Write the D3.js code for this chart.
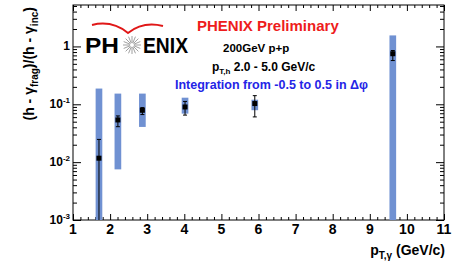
<!DOCTYPE html>
<html>
  <head>
    <meta charset="utf-8">
    <script src="https://cdnjs.cloudflare.com/ajax/libs/d3/7.8.5/d3.min.js"></script>
    <style>
      body { margin: 0px; background: #fff; }
      text { font-family: "Liberation Sans", Arial, sans-serif; font-weight: bold; }
      .domain { display: none; }
      .tick line { stroke: #000; }
    </style>
  </head>
  <body>
    <svg width="452" height="262"></svg>
    <script>
      // values
      const ptGamma  = [1.70, 2.21, 2.87, 4.02, 5.90, 9.62];
      const ratio    = [0.0117, 0.0536, 0.0788, 0.0899, 0.103, 0.748];
      const statLow  = [0.0005, 0.041, 0.0664, 0.065, 0.0605, 0.57];
      const statHigh = [0.0247, 0.0629, 0.0876, 0.112, 0.141, 0.85];
      const sysLow   = [0.0005, 0.0075, 0.0406, 0.069, 0.079, 0.0005];
      const sysHigh  = [0.187, 0.153, 0.153, 0.130, 0.120, 1.55];
      const xTicks = [1, 2, 3, 4, 5, 6, 7, 8, 9, 10, 11];
      const yTicks = [0.001, 0.01, 0.1, 1];
      const yTickLabels = [['10', '-3'], ['10', '-2'], ['10', '-1'], ['1', '']];

      const data = ptGamma.map((x, i) => ({
        x, y: ratio[i], sLo: statLow[i], sHi: statHigh[i], bLo: sysLow[i], bHi: sysHigh[i]
      }));

      const svg = d3.select('svg');
      const pLeft = 73, pRight = 444, pTop = 5, pBottom = 220;

      const xScale = d3.scaleLinear().domain([1, 11]).range([pLeft, pRight]);
      const yScale = d3.scaleLog().domain([0.001, 5.2]).range([pBottom, pTop]).clamp(true);

      // minor ticks
      const xMinor = d3.range(1, 11.001, 0.2).filter(v => Math.abs(v - Math.round(v)) > 1e-6);
      const yMinor = [];
      [0.001, 0.01, 0.1, 1].forEach(d => d3.range(2, 10).forEach(k => { if (d * k < 5.2) yMinor.push(d * k); }));

      const tickAxis = (axis, scale, vals, size, tr) => {
        svg.append('g')
          .attr('transform', tr)
          .call(axis(scale).tickValues(vals).tickSize(size).tickFormat(''));
      };
      tickAxis(d3.axisBottom, xScale, xMinor, -3, `translate(0,${pBottom})`);
      tickAxis(d3.axisBottom, xScale, xTicks, -6, `translate(0,${pBottom})`);
      tickAxis(d3.axisTop, xScale, xMinor, -3, `translate(0,${pTop})`);
      tickAxis(d3.axisTop, xScale, xTicks, -6, `translate(0,${pTop})`);
      tickAxis(d3.axisLeft, yScale, yMinor, -4, `translate(${pLeft},0)`);
      tickAxis(d3.axisLeft, yScale, yTicks, -8, `translate(${pLeft},0)`);
      tickAxis(d3.axisRight, yScale, yMinor, -4, `translate(${pRight},0)`);
      tickAxis(d3.axisRight, yScale, yTicks, -8, `translate(${pRight},0)`);

      svg.append('rect')
        .attr('x', pLeft).attr('y', pTop)
        .attr('width', pRight - pLeft).attr('height', pBottom - pTop)
        .attr('fill', 'none').attr('stroke', '#000').attr('stroke-width', 1);

      // x tick labels
      svg.append('g').selectAll('text').data(xTicks).join('text')
        .attr('x', d => xScale(d))
        .attr('y', 234)
        .attr('text-anchor', 'middle')
        .attr('font-size', 14)
        .text(d => d);

      // y tick labels
      const yl = svg.append('g').selectAll('text').data(yTicks).join('text')
        .attr('x', 70)
        .attr('y', d => yScale(d) + 4)
        .attr('text-anchor', 'end')
        .attr('font-size', 12);
      yl.each(function(d, i) {
        const t = d3.select(this);
        const [base, sup] = yTickLabels[i];
        t.append('tspan').text(base);
        if (sup) t.append('tspan').attr('dy', -5).attr('font-size', 8).text(sup);
      });

      // systematic boxes
      const halfW = 0.09;
      svg.append('g').selectAll('rect').data(data).join('rect')
        .attr('x', d => xScale(d.x - halfW))
        .attr('width', d => xScale(d.x + halfW) - xScale(d.x - halfW))
        .attr('y', d => yScale(d.bHi))
        .attr('height', d => yScale(d.bLo) - yScale(d.bHi))
        .attr('fill', '#7091d2');

      // statistical error bars
      const eb = svg.append('g').attr('stroke', '#000').attr('stroke-width', 1);
      eb.selectAll('line.v').data(data).join('line').attr('class', 'v')
        .attr('x1', d => xScale(d.x)).attr('x2', d => xScale(d.x))
        .attr('y1', d => yScale(d.sLo)).attr('y2', d => yScale(d.sHi));
      eb.selectAll('line.t').data(data).join('line').attr('class', 't')
        .attr('x1', d => xScale(d.x) - 2).attr('x2', d => xScale(d.x) + 2)
        .attr('y1', d => yScale(d.sHi)).attr('y2', d => yScale(d.sHi));
      eb.selectAll('line.b').data(data.filter(d => d.sLo > 0.001)).join('line').attr('class', 'b')
        .attr('x1', d => xScale(d.x) - 2).attr('x2', d => xScale(d.x) + 2)
        .attr('y1', d => yScale(d.sLo)).attr('y2', d => yScale(d.sLo));

      // markers
      svg.append('g').selectAll('rect').data(data).join('rect')
        .attr('x', d => xScale(d.x) - 2.5).attr('y', d => yScale(d.y) - 2.5)
        .attr('width', 5).attr('height', 5).attr('fill', '#000');

      // axis titles
      const xt = svg.append('text').attr('x', 445).attr('y', 255)
        .attr('text-anchor', 'end').attr('font-size', 14);
      xt.append('tspan').text('p');
      xt.append('tspan').attr('dy', 4).attr('font-size', 10).text('T,γ');
      xt.append('tspan').attr('dy', -4).text(' (GeV/c)');

      const yt = svg.append('text').attr('transform', 'translate(34,7) rotate(-90)')
        .attr('text-anchor', 'end').attr('font-size', 14);
      yt.append('tspan').text('(h - γ');
      yt.append('tspan').attr('dy', 4).attr('font-size', 10).text('frag');
      yt.append('tspan').attr('dy', -4).text(')/(h - γ');
      yt.append('tspan').attr('dy', 4).attr('font-size', 10).text('inc');
      yt.append('tspan').attr('dy', -4).text(')');

      // PHENIX logo
      const logo = svg.append('g');
      logo.append('path')
        .attr('d', 'M92,25 Q112,20 128,33 Q143,21 163,26')
        .attr('fill', 'none').attr('stroke', '#e01818').attr('stroke-width', 2);
      logo.append('text').attr('x', 85).attr('y', 53).attr('font-size', 22)
        .attr('textLength', 34).attr('lengthAdjust', 'spacingAndGlyphs').text('PH');
      logo.append('text').attr('x', 143).attr('y', 53).attr('font-size', 22)
        .attr('textLength', 45).attr('lengthAdjust', 'spacingAndGlyphs').text('ENIX');
      d3.range(16).forEach(k => {
        const a = k * Math.PI / 8;
        logo.append('line')
          .attr('x1', 132 + 2 * Math.cos(a)).attr('y1', 45 + 2 * Math.sin(a))
          .attr('x2', 132 + 9 * Math.cos(a)).attr('y2', 45 + 9 * Math.sin(a))
          .attr('stroke', '#888').attr('stroke-width', 0.8);
      });

      // annotations
      svg.append('text').attr('x', 197).attr('y', 31).attr('font-size', 15)
        .attr('fill', '#ee1c1c').text('PHENIX Preliminary');
      svg.append('text').attr('x', 223).attr('y', 52).attr('font-size', 11.5)
        .text('200GeV p+p');
      const pt = svg.append('text').attr('x', 212).attr('y', 71).attr('font-size', 12);
      pt.append('tspan').text('p');
      pt.append('tspan').attr('dy', 3).attr('font-size', 8).text('T,h');
      pt.append('tspan').attr('dy', -3).text(' 2.0 - 5.0 GeV/c');
      svg.append('text').attr('x', 175).attr('y', 89).attr('font-size', 12.5)
        .attr('fill', '#2424e6').text('Integration from -0.5 to 0.5 in Δφ');
    </script>
  </body>
</html>
